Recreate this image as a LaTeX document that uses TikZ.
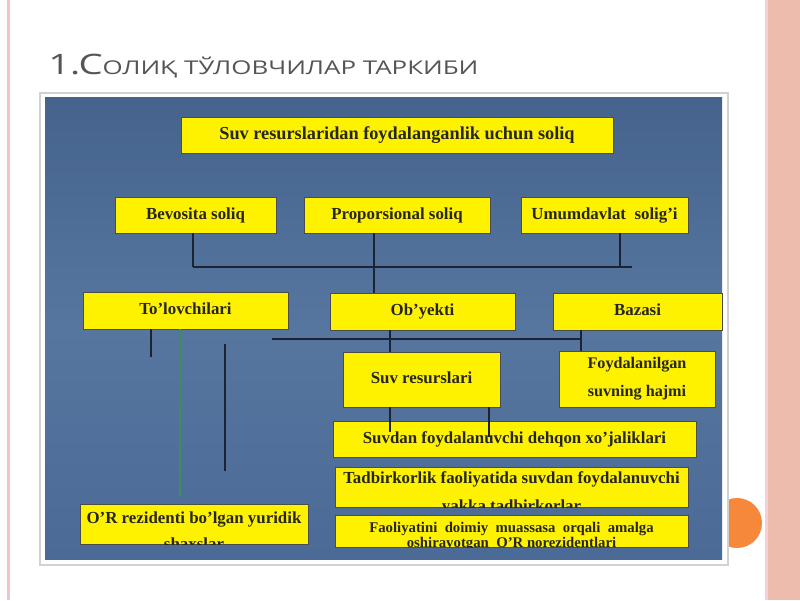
\documentclass[tikz,border=0pt]{standalone}
\usepackage{fontspec}
\setmainfont{Liberation Serif}
\newfontfamily\titlefont{Open Sans}
\usetikzlibrary{shadows}
\definecolor{panelTop}{HTML}{45638C}
\definecolor{panelMid}{HTML}{5676A0}
\definecolor{panelBot}{HTML}{4B6A95}
\definecolor{boxtext}{HTML}{26261A}
\definecolor{lineC}{HTML}{1B2433}
\definecolor{titleC}{HTML}{555555}
\definecolor{pinkL}{HTML}{F4C2C8}
\definecolor{salmon}{HTML}{EDBCAC}
\definecolor{orangeC}{HTML}{F5883A}
\definecolor{greenL}{HTML}{3E8C62}
\newcommand\ybox[7][]{\node[ybox, #1, minimum width={(#5-#3)*0.025cm}, minimum height={(#6-#4)*0.025cm}] (#2) at ({(#3+#5)/2},{(#4+#6)/2}) {#7};}
\begin{document}
\begin{tikzpicture}[x=0.025cm,y=-0.025cm,
  ybox/.style={draw=black!70, line width=0.5pt, fill=yellow, inner sep=0pt,
    font=\bfseries\fontsize{12}{14}\selectfont, text=boxtext, align=center,
    drop shadow={shadow xshift=0.9pt, shadow yshift=-0.9pt, fill=black, opacity=0.45}},
  stxt/.style={text height=9pt, text depth=3pt},
  btext/.style={font=\bfseries\fontsize{12}{14}\selectfont, text=boxtext, inner sep=0pt, text height=9pt, text depth=3pt},
  conn/.style={draw=lineC, line width=0.8pt}]
\useasboundingbox (0,0) rectangle (800,600);
\fill[white] (0,0) rectangle (800,600);
% side decorations
\fill[pinkL] (7,0) rectangle (9.5,600);
\fill[salmon] (767,0) rectangle (800,600);
\fill[pinkL!80!white] (765,0) rectangle (768,600);
% title
\node[anchor=base west, inner sep=0pt, text=titleC] (title) at (48,74)
  {\resizebox{10.75cm}{\height}{\titlefont\fontsize{20}{22}\selectfont 1.С\fontsize{13.5}{16}\selectfont ОЛИҚ ТЎЛОВЧИЛАР ТАРКИБИ}};
% orange circle
\fill[orangeC] (737,523) circle (25);
% frame and panel
\filldraw[fill=white, draw=black!18, line width=0.8pt] (40,93) rectangle (728,565);
\shade[top color=panelTop, bottom color=panelBot, middle color=panelMid] (45,97) rectangle (722,559);
% boxes
\ybox{top}{181}{117}{613}{153}{\fontsize{13}{15}\selectfont Suv resurslaridan foydalanganlik uchun soliq}
\ybox[stxt]{bev}{115}{197}{276}{233}{Bevosita soliq}
\ybox[stxt]{prop}{304}{197}{490}{233}{Proporsional soliq}
\ybox[stxt]{umum}{521}{197}{688}{233}{Umumdavlat\ \ solig'i}
\ybox[stxt]{tol}{83}{292}{288}{329}{To'lovchilari}
\ybox[stxt]{ob}{330}{293}{515}{330}{Ob'yekti}
\ybox[stxt]{baz}{553}{293}{722}{330}{Bazasi}
\ybox[stxt]{sr}{343}{352}{500}{407}{Suv resurslari}
\ybox{foyd}{559}{351}{715}{407}{\fontsize{11.5}{13}\selectfont Foydalanilgan\\[6pt]\fontsize{11.5}{13}\selectfont suvning hajmi}
\ybox{dehq}{333}{421}{696}{457}{\raisebox{-3pt}{Suvdan\ foydalanuvchi\ dehqon\ xo'jaliklari}}
\ybox{tadb}{335}{467}{688}{507}{}
\ybox{faol}{335}{515}{688}{547}{}
\ybox{rez}{80}{504}{308}{544}{}
\begin{scope}
  \clip (tadb.south west) rectangle (tadb.north east);
  \node[btext] (tadb1) at (511.5,479) {Tadbirkorlik faoliyatida suvdan foydalanuvchi};
  \node[btext] (tadb2) at (511.5,507) {yakka tadbirkorlar};
\end{scope}
\begin{scope}
  \clip (faol.south west) rectangle (faol.north east);
  \node[btext, font=\bfseries\fontsize{10.5}{12}\selectfont] (faol1) at (511.5,528) {Faoliyatini\ \ doimiy\ \ muassasa\ \ orqali\ \ amalga};
  \node[btext, font=\bfseries\fontsize{10.5}{12}\selectfont] (faol2) at (511.5,543) {oshirayotgan\ \ O'R norezidentlari};
\end{scope}
\begin{scope}
  \clip (rez.south west) rectangle (rez.north east);
  \node[btext] (rez1) at (194,519) {O'R rezidenti bo'lgan yuridik};
  \node[btext] (rez2) at (194,545) {shaxslar};
\end{scope}
% connector coordinates
\coordinate (busL) at (193,267);
\coordinate (busR) at (632,267);
\coordinate (ucol) at (620,267);
\coordinate (pcol) at (374,267);
\coordinate (t1end) at (151,357);
\coordinate (gbot) at (180,497);
\coordinate (d1) at (225,344);
\coordinate (d2) at (225,471);
\coordinate (b2L) at (272,339);
\coordinate (b2R) at (581,339);
\coordinate (c390) at (390,339);
\coordinate (s1end) at (390,432);
\coordinate (s2end) at (489,437);
% connectors
\draw[conn] (bev.south -| busL) -- (busL);
\draw[conn] (busL) -- (busR);
\draw[conn] (umum.south -| ucol) -- (ucol);
\draw[conn] (prop.south -| pcol) -- (ob.north -| pcol);
\draw[conn] (tol.south -| t1end) -- (t1end);
\draw[draw=greenL, line width=0.8pt] (tol.south -| gbot) -- (gbot);
\draw[conn] (d1) -- (d2);
\draw[conn] (b2L) -- (b2R);
\draw[conn] (ob.south -| c390) -- (sr.north -| c390);
\draw[conn] (baz.south -| b2R) -- (foyd.north -| b2R);
\draw[conn] (sr.south -| s1end) -- (s1end);
\draw[conn] (sr.south -| s2end) -- (s2end);
\end{tikzpicture}
\end{document}
